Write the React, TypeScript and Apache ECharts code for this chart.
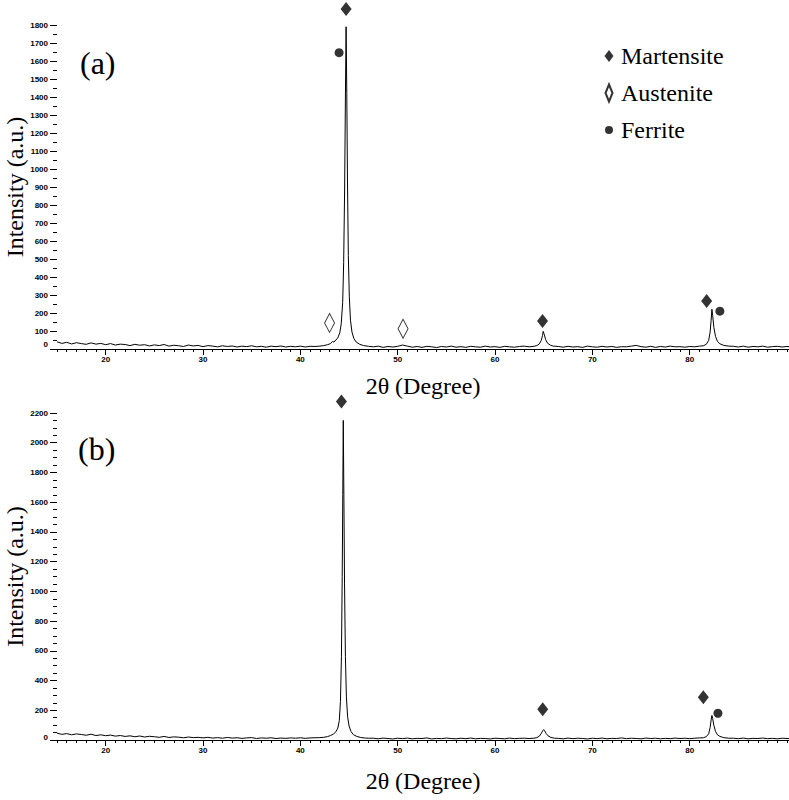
import React, { useEffect, useRef } from "react";
import * as echarts from "echarts";

// ---- axis ticks ----
const xTickLabels = [20, 30, 40, 50, 60, 70, 80];
const xMinorTicks = [
  15, 16, 17, 18, 19, 20, 21, 22, 23, 24, 25, 26, 27, 28, 29, 30, 31, 32, 33, 34,
  35, 36, 37, 38, 39, 40, 41, 42, 43, 44, 45, 46, 47, 48, 49, 50, 51, 52, 53, 54,
  55, 56, 57, 58, 59, 60, 61, 62, 63, 64, 65, 66, 67, 68, 69, 70, 71, 72, 73, 74,
  75, 76, 77, 78, 79, 80, 81, 82, 83, 84, 85, 86, 87, 88, 89, 90,
];
const X_MIN = 15;
const X_MAX = 90.2;
const TOP_Y_MAX = 1800;
const TOP_Y_STEP = 100;
const BOT_Y_MAX = 2200;
const BOT_Y_STEP = 200;

// ---- pattern (a): background scans every 0.5 deg, peaks as [2theta, intensity] ----
const BG_STEP = 0.5;
const topBgA = [
  40, 31, 37, 28, 35, 30, 26, 34, 27, 31,
  24, 30, 22, 27, 25, 19, 26, 21, 24, 17,
  23, 19, 25, 16, 21, 18, 14, 22, 17, 20,
  13, 19, 16, 12, 18, 14, 17, 11, 16, 13,
  18, 12, 15, 10, 16, 13, 17, 11, 15, 12,
  16, 11, 15, 14,
]; // 15.0 .. 41.5
const topPeak1: [number, number][] = [
  [42.0, 16], [42.4, 19], [42.8, 24], [43.1, 30], [43.3, 42], [43.45, 38], [43.65, 50],
  [43.85, 62], [44.05, 90], [44.2, 140], [44.35, 260], [44.45, 480], [44.55, 900],
  [44.63, 1400], [44.7, 1790], [44.77, 1420], [44.84, 950], [44.93, 520], [45.03, 290],
  [45.15, 160], [45.3, 95], [45.5, 58], [45.75, 38], [46.1, 26], [46.5, 19], [47.0, 15],
];
const topBgB = [
  12, 16, 9, 14, 11, 15, 22, 16, 10, 14,
  9, 15, 12, 8, 14, 11, 16, 10, 13, 9,
  15, 12, 10, 16, 11, 13, 9, 15, 12, 10,
  14, 16, 12,
]; // 47.5 .. 63.5
const topPeak2: [number, number][] = [
  [64.0, 15], [64.3, 19], [64.55, 28], [64.75, 48], [64.88, 75], [64.95, 98],
  [65.05, 82], [65.2, 52], [65.4, 32], [65.7, 21], [66.0, 16],
];
const topBgC = [
  14, 10, 15, 11, 13, 9, 16, 12, 10, 15,
  11, 14, 9, 13, 12, 16, 20, 13, 10, 15,
  9, 14, 11, 16, 12, 13, 10, 14, 12, 16,
]; // 66.5 .. 81.0
const topPeak3: [number, number][] = [
  [81.4, 18], [81.7, 26], [81.95, 48], [82.1, 95], [82.2, 160], [82.28, 221],
  [82.36, 185], [82.48, 120], [82.65, 70], [82.85, 42], [83.1, 29], [83.5, 20], [84.0, 16],
];
const topBgD = [15, 11, 16, 10, 14, 12, 16, 10, 13, 15, 11, 14]; // 84.5 .. 90.0
const topEnd: [number, number][] = [[90.2, 13]];

// ---- pattern (b) ----
const botBgA = [
  46, 38, 43, 35, 41, 37, 32, 39, 30, 35,
  29, 33, 26, 30, 24, 28, 22, 27, 20, 25,
  22, 18, 24, 17, 21, 19, 15, 20, 16, 18,
  14, 18, 13, 16, 12, 17, 13, 15, 11, 14,
  16, 10, 14, 12, 15, 10, 13, 11, 14, 12,
  15, 11, 14, 15,
]; // 15.0 .. 41.5
const botPeak1: [number, number][] = [
  [42.0, 16], [42.4, 18], [42.8, 23], [43.1, 30], [43.4, 40], [43.65, 55], [43.85, 80],
  [44.0, 130], [44.12, 260], [44.22, 560], [44.3, 1100], [44.36, 1650], [44.41, 2150],
  [44.47, 1650], [44.54, 1050], [44.63, 560], [44.73, 290], [44.85, 160], [45.0, 95],
  [45.2, 58], [45.45, 36], [45.8, 24], [46.2, 17], [46.7, 13], [47.0, 12],
];
const botBgB = [
  12, 8, 13, 10, 7, 12, 9, 13, 8, 11,
  10, 14, 7, 11, 9, 13, 10, 8, 12, 9,
  13, 8, 11, 10, 7, 12, 10, 8, 13, 9,
  11, 12, 10,
]; // 47.5 .. 63.5
const botPeak2: [number, number][] = [
  [64.0, 12], [64.3, 16], [64.55, 26], [64.75, 44], [64.9, 62], [65.0, 70],
  [65.1, 62], [65.25, 44], [65.45, 28], [65.75, 17], [66.1, 12],
];
const botBgC = [
  11, 8, 13, 9, 12, 10, 7, 12, 9, 13,
  8, 11, 10, 14, 9, 12, 10, 8, 13, 10,
  12, 8, 11, 9, 13, 10, 12, 9, 12, 14,
]; // 66.5 .. 81.0
const botPeak3: [number, number][] = [
  [81.4, 15], [81.7, 22], [81.95, 42], [82.1, 85], [82.2, 135], [82.28, 165],
  [82.36, 145], [82.48, 98], [82.65, 58], [82.85, 35], [83.1, 24], [83.5, 16], [84.0, 12],
];
const botBgD = [12, 9, 13, 8, 11, 10, 13, 9, 11, 8, 12, 10]; // 84.5 .. 90.0
const botEnd: [number, number][] = [[90.2, 11]];

// ---- phase markers ----
const topMartensite: [number, number][] = [[44.7, 1889], [64.88, 156], [81.74, 267]];
const topAustenite: [number, number][] = [[43.0, 145], [50.55, 113]];
const topFerrite: [number, number][] = [[43.98, 1646], [83.1, 210]];
const botMartensite: [number, number][] = [[44.22, 2277], [64.9, 207], [81.4, 287]];
const botFerrite: [number, number][] = [[82.9, 180]];

const bg = (start: number, vals: number[]) =>
  vals.map((v, i) => [start + i * BG_STEP, v] as [number, number]);

const topPattern = [
  ...bg(15, topBgA), ...topPeak1, ...bg(47.5, topBgB), ...topPeak2,
  ...bg(66.5, topBgC), ...topPeak3, ...bg(84.5, topBgD), ...topEnd,
];
const botPattern = [
  ...bg(15, botBgA), ...botPeak1, ...bg(47.5, botBgB), ...botPeak2,
  ...bg(66.5, botBgC), ...botPeak3, ...bg(84.5, botBgD), ...botEnd,
];

const SERIF = '"Liberation Serif", "Times New Roman", serif';
const SANS = '"Liberation Sans", Arial, sans-serif';

const tickLabelStyle = {
  color: "#000",
  fontFamily: SANS,
  fontSize: 8,
  fontWeight: "bold" as const,
};

function makeX(gridIndex: number, nameGap: number, main: boolean) {
  if (!main) {
    return {
      gridIndex,
      type: "value",
      position: "bottom",
      min: X_MIN,
      max: X_MAX,
      axisLine: { show: false },
      axisTick: { show: true, customValues: xMinorTicks, length: 3, lineStyle: { color: "#000", width: 1 } },
      axisLabel: { show: false },
      splitLine: { show: false },
    };
  }
  return {
    gridIndex,
    type: "value",
    position: "bottom",
    min: X_MIN,
    max: X_MAX,
    axisLine: { show: true, onZero: false, lineStyle: { color: "#000", width: 1 } },
    axisTick: { show: true, customValues: xTickLabels, length: 6, lineStyle: { color: "#000", width: 1 } },
    axisLabel: { show: true, customValues: xTickLabels, margin: 6, ...tickLabelStyle },
    splitLine: { show: false },
    name: "2θ (Degree)",
    nameLocation: "middle",
    nameGap,
    nameTextStyle: { fontFamily: SERIF, fontSize: 24, color: "#000" },
  };
}

function makeY(gridIndex: number, max: number, interval: number, minorSplit: number, zeroPad: number) {
  return {
    gridIndex,
    type: "value",
    min: 0,
    max,
    interval,
    axisLine: { show: false },
    axisTick: { show: true, length: 7, lineStyle: { color: "#000", width: 1 } },
    minorTick: { show: true, splitNumber: minorSplit, length: 4, lineStyle: { color: "#000", width: 1 } },
    splitLine: { show: false },
    minorSplitLine: { show: false },
    axisLabel: {
      margin: 9,
      ...tickLabelStyle,
      formatter: (v: number) => (v === 0 ? "{z|0}" : String(v)),
      rich: { z: { ...tickLabelStyle, padding: [0, 0, zeroPad, 0] } },
    },
    name: "Intensity (a.u.)",
    nameLocation: "middle",
    nameGap: 30,
    nameMoveOverlap: false,
    nameTextStyle: { fontFamily: SERIF, fontSize: 24, color: "#000" },
  };
}

const filledDiamond = { symbol: "diamond", symbolSize: [11, 14], itemStyle: { color: "#000" } };
const openDiamond = {
  symbol: "diamond",
  symbolSize: [10, 19],
  itemStyle: { color: "#fff", borderColor: "#000", borderWidth: 1 },
};
const dot = { symbol: "circle", symbolSize: 9, itemStyle: { color: "#000" } };

export default function App() {
  const ref = useRef<HTMLDivElement>(null);
  useEffect(() => {
    document.body.style.margin = "0";
    if (!ref.current) return;
    const chart = echarts.init(ref.current, undefined, { renderer: "svg" });
    chart.setOption({
      animation: false,
      backgroundColor: "#fff",
      grid: [
        { left: 57, right: 0, top: 25, height: 324, outerBoundsMode: "none", containLabel: false },
        { left: 57, right: 0, top: 413, height: 327, outerBoundsMode: "none", containLabel: false },
      ],
      xAxis: [makeX(0, 25, true), makeX(0, 0, false), makeX(1, 29, true), makeX(1, 0, false)],
      yAxis: [makeY(0, TOP_Y_MAX, TOP_Y_STEP, 2, 10), makeY(1, BOT_Y_MAX, BOT_Y_STEP, 4, 6)],
      legend: {
        orient: "vertical",
        left: 596,
        top: 39,
        itemWidth: 14,
        itemHeight: 17,
        itemGap: 13,
        selectedMode: false,
        textStyle: { fontFamily: SERIF, fontSize: 24, color: "#000" },
        data: [
          { name: "Martensite", icon: "path://M0,0M14,17M7,2.5L11.5,8.5L7,14.5L2.5,8.5Z" },
          { name: "Austenite", icon: "path://M0,0M14,17M7,0L10.5,8.5L7,17L3.5,8.5Z" },
          { name: "Ferrite", icon: "path://M0,0M14,17M3,8.5A4,4 0 1,0 11,8.5A4,4 0 1,0 3,8.5Z" },
        ],
      },
      graphic: [
        { type: "text", left: 80, top: 47, style: { text: "(a)", font: `32px ${SERIF}`, fill: "#000" } },
        { type: "text", left: 78, top: 433, style: { text: "(b)", font: `32px ${SERIF}`, fill: "#000" } },
      ],
      series: [
        {
          type: "line", name: "Pattern (a)", xAxisIndex: 0, yAxisIndex: 0, data: topPattern,
          showSymbol: false, lineStyle: { color: "#000", width: 1 }, silent: true,
        },
        {
          type: "line", name: "Pattern (b)", xAxisIndex: 2, yAxisIndex: 1, data: botPattern,
          showSymbol: false, lineStyle: { color: "#000", width: 1 }, silent: true,
        },
        { type: "scatter", name: "Martensite", xAxisIndex: 0, yAxisIndex: 0, data: topMartensite, clip: false, ...filledDiamond },
        { type: "scatter", name: "Austenite", xAxisIndex: 0, yAxisIndex: 0, data: topAustenite, clip: false, ...openDiamond },
        { type: "scatter", name: "Ferrite", xAxisIndex: 0, yAxisIndex: 0, data: topFerrite, clip: false, ...dot },
        { type: "scatter", name: "Martensite", xAxisIndex: 2, yAxisIndex: 1, data: botMartensite, clip: false, ...filledDiamond },
        { type: "scatter", name: "Ferrite", xAxisIndex: 2, yAxisIndex: 1, data: botFerrite, clip: false, ...dot },
      ],
    });
    return () => chart.dispose();
  }, []);
  return <div ref={ref} style={{ width: 789, height: 800 }} />;
}
